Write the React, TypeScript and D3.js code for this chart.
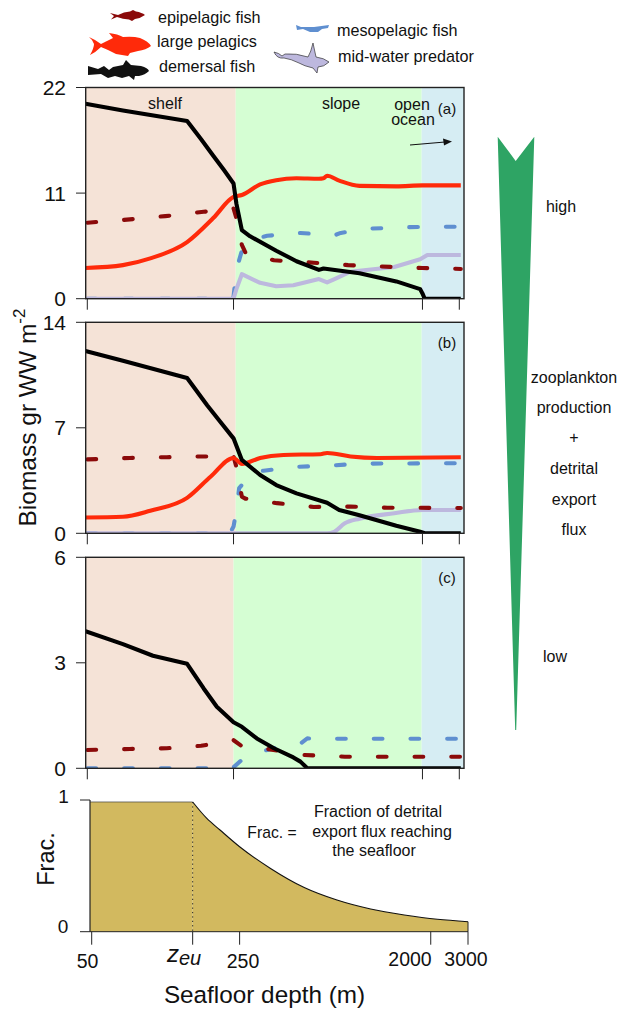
import React from "react";
import * as d3 from "d3";

const C = { epi: "#8b0a0a", large: "#ff2a0a", dem: "#000000", meso: "#5f8fd0", mid: "#bdb8de" };

const depthTicks = [50, 250, 2000, 3000];

const a_dem_d = [49, 74, 150, 175, 200, 225, 250, 258, 274, 300, 400, 500, 640, 673, 1000, 1500, 1950, 2000, 2050, 3050];
const a_dem_v = [20.3, 19.6, 18.5, 16.6, 14.9, 13.4, 12, 9.9, 7.15, 6.5, 5.0, 3.9, 3.0, 3.15, 2.65, 1.8, 1.0, 0.55, 0, 0];
const a_large_d = [49, 74, 100, 150, 200, 250, 274, 335, 400, 500, 640, 673, 700, 800, 1000, 1500, 2000, 3050];
const a_large_v = [3.2, 3.5, 4.2, 5.9, 8.4, 10.6, 10.8, 11.9, 12.35, 12.55, 12.5, 12.55, 12.8, 12.3, 11.75, 11.7, 11.8, 11.8];
const a_epi_d = [49, 74, 118, 180, 250, 258, 274, 285, 390, 605, 882, 1466, 2000, 3050];
const a_epi_v = [7.9, 8.2, 8.6, 9.05, 9.4, 8.4, 5.6, 4.8, 4.0, 3.75, 3.5, 3.3, 3.2, 3.1];
const a_meso_d = [49, 245, 250, 258, 274, 323, 362, 522, 757, 814, 1120, 1698, 2540, 3050];
const a_meso_v = [0, 0, 0.2, 3, 5, 6.3, 6.55, 6.85, 6.6, 6.85, 7.3, 7.45, 7.5, 7.5];
const a_mid_d = [49, 250, 258, 274, 335, 400, 483, 640, 700, 760, 900, 1466, 1950, 2110, 3050];
const a_mid_v = [0, 0, 1.0, 2.55, 1.65, 1.3, 1.4, 2.05, 1.7, 2.05, 2.8, 3.3, 4.1, 4.55, 4.55];

const b_dem_d = [49, 74, 150, 187, 216, 250, 274, 335, 400, 500, 700, 800, 1000, 1500, 1950, 2050, 3050];
const b_dem_v = [12.1, 11.45, 10.3, 8.5, 7.4, 6.3, 4.87, 3.87, 3.2, 2.65, 2.03, 1.55, 1.2, 0.5, 0.1, 0, 0];
const b_large_d = [49, 74, 100, 150, 194, 250, 274, 335, 433, 651, 700, 906, 1212, 3050];
const b_large_v = [1.05, 1.1, 1.5, 2.35, 3.75, 5, 4.6, 5.0, 5.2, 5.25, 5.33, 5.1, 5.0, 5.05];
const b_epi_d = [49, 80, 120, 175, 250, 258, 274, 285, 404, 605, 906, 1358, 3050];
const b_epi_v = [4.9, 5.0, 5.05, 5.1, 5.1, 4.4, 2.43, 2.3, 2.0, 1.75, 1.77, 1.7, 1.68];
const b_meso_d = [49, 240, 250, 258, 266, 312, 348, 483, 742, 1000, 3050];
const b_meso_v = [0, 0, 0.45, 1.5, 3.0, 4.1, 4.15, 4.4, 4.5, 4.62, 4.65];
const b_mid_d = [49, 700, 757, 851, 1000, 1466, 2000, 3050];
const b_mid_v = [0, 0, 0.1, 0.66, 0.97, 1.33, 1.55, 1.55];

const c_dem_d = [49, 74, 103, 150, 180, 208, 250, 274, 323, 390, 483, 522, 563, 3050];
const c_dem_v = [3.9, 3.53, 3.2, 2.97, 2.27, 1.75, 1.31, 1.18, 0.85, 0.57, 0.31, 0.19, 0, 0];
const c_epi_d = [49, 80, 120, 175, 250, 274, 362, 542, 851, 3050];
const c_epi_v = [0.52, 0.55, 0.57, 0.64, 0.8, 0.63, 0.55, 0.38, 0.33, 0.33];
const c_meso_d = [49, 240, 250, 274, 335, 404, 522, 563, 783, 3050];
const c_meso_v = [0, 0, 0.03, 0.24, 0.47, 0.59, 0.7, 0.85, 0.84, 0.84];

const frac_flat_d = [50, 150];
const frac_flat_v = [0.985, 0.985];
const frac_d = [150, 175, 202, 250, 350, 505, 721, 1040, 1500, 2150, 3000];
const frac_v = [0.985, 0.86, 0.772, 0.645, 0.48, 0.335, 0.24, 0.172, 0.127, 0.094, 0.076];

const FONT = "Liberation Sans, Arial, sans-serif";

type S = { d: number[]; v: number[]; c: string; dash?: boolean; smooth?: boolean };

function Panel({ top, bottom, max, shelfEnd, label, series, id }: { top: number; bottom: number; max: number; shelfEnd: number; label: string; series: S[]; id: string }) {
  const x = d3.scaleLog().domain([50, 3000]).range([87.3, 459.3]);
  const y = d3.scaleLinear().domain([0, max]).range([bottom, top]);
  const L = 85.7, R = 464;
  const oceanX = 421.7;
  return (
    <g>
      <rect x={L} y={top} width={shelfEnd - L} height={bottom - top} fill="#f5e3d7" />
      <rect x={shelfEnd} y={top} width={oceanX - shelfEnd} height={bottom - top} fill="#d5fed3" />
      <rect x={oceanX} y={top} width={R - oceanX} height={bottom - top} fill="#d6edf3" />
      <clipPath id={id}><rect x={L} y={top} width={R - L} height={bottom - top} /></clipPath>
      <g clipPath={`url(#${id})`}>
        {series.map((s, i) => {
          const line = d3.line<number>().x((_, k) => x(s.d[k])).y((val) => y(val)).curve(s.smooth ? d3.curveMonotoneX : d3.curveLinear);
          return (
            <path key={i} d={line(s.v) || ""} fill="none" stroke={s.c} strokeWidth={4.1}
              strokeLinejoin="round" strokeLinecap={s.dash ? "round" : "butt"}
              strokeDasharray={s.dash ? "8.7 28" : undefined} strokeDashoffset={s.dash ? -2 : 0} />
          );
        })}
      </g>
      <rect x={L} y={top} width={R - L} height={bottom - top} fill="none" stroke="#222" strokeWidth={1.4} />
      {[0, max / 2, max].map((t) => (
        <g key={t}>
          <line x1={76} x2={L} y1={y(t)} y2={y(t)} stroke="#222" strokeWidth={1} />
          <text x={66} y={y(t) + 7.5} textAnchor="end" fontSize={21} fontFamily={FONT} fill="#111">{t}</text>
        </g>
      ))}
      {depthTicks.map((t) => (
        <line key={t} x1={x(t)} x2={x(t)} y1={bottom} y2={bottom + 11} stroke="#222" strokeWidth={1} />
      ))}
      <text x={447} y={top + 26} textAnchor="middle" fontSize={15} fontFamily={FONT} fill="#111">{label}</text>
    </g>
  );
}

const Legend = ({ x, y, t }: { x: number; y: number; t: string }) => (
  <text x={x} y={y} fontSize={16.2} fontFamily={FONT} fill="#111">{t}</text>
);

const sideLabels: [string, number, number][] = [
  ["high", 561, 212], ["zooplankton", 574, 383], ["production", 574, 413], ["+", 574, 443],
  ["detrital", 574, 474], ["export", 574, 505], ["flux", 574, 535], ["low", 555, 662],
];

export default function App() {
  const xb = d3.scaleLog().domain([50, 3000]).range([91.7, 468]);
  const yb = d3.scaleLinear().domain([0, 1]).range([931.7, 800]);
  const area = d3.area<number>().x((_, k) => xb(frac_d[k])).y0(yb(0)).y1((v) => yb(v)).curve(d3.curveMonotoneX);
  const line = d3.line<number>().x((_, k) => xb(frac_d[k])).y((v) => yb(v)).curve(d3.curveMonotoneX);
  const zeu = xb(150);
  const flatX0 = xb(frac_flat_d[0]) - 1.7;
  const flatX1 = xb(frac_flat_d[1]);
  const flatY = yb(frac_flat_v[0]);
  return (
    <svg width={619} height={1010} style={{ position: "absolute", left: 0, top: 0, background: "#fff" }}>
      {/* legend fish */}
      <path d="M110 13 L118 15 Q124 11.5 130 11.5 L133 10 L136 11.5 Q142 12.5 145 15 Q141 18 135 19 L132 21 L129 19.5 Q123 19 117 17 L111 19.5 L114 16 Z" fill={C.epi} />
      <path d="M89 37 Q96 40 101 44 Q107 41 113 38 L109 33 Q118 34 123 37 Q133 36 140 38 Q148 41 151 46 Q146 50 138 51 L130 53 L128 56 L116 54 L108 50 L101 47 Q96 52 90 55 Q94 48 94 44 Q93 40 89 37 Z" fill={C.large} />
      <path d="M88 66 L98 69 L104 66 L109 70 L113 67 L118 66 L123 65 L126 60 L131 65 L141 66 Q148 68 149 71 Q145 75 139 76 L135 76 L134 80 L129 76 L122 78 L115 76 L108 78 L101 74 L88 75 Z" fill="#111" />
      <path d="M296 25 L301 27 L314 27 L329 25 L328 28 L322 29 L318 32 L310 32 L303 29 L297 30 Z" fill={C.meso} />
      <path d="M274 52 Q279 53 282 56 L285 54 Q296 53 308 57 Q311 52 313 43 L316 57 Q324 58 329 62 Q324 67 318 67 L317 73 L313 68 Q304 66 299 63 Q291 59 284 58 Q277 59 274 52 Z" fill={C.mid} stroke="#333" strokeWidth={0.7} />
      <Legend x={158} y={23} t="epipelagic fish" />
      <Legend x={157} y={47} t="large pelagics" />
      <Legend x={159} y={72} t="demersal fish" />
      <Legend x={337} y={36} t="mesopelagic fish" />
      <Legend x={338} y={62} t="mid-water predator" />

      <Panel id="pa" top={87.5} bottom={298.7} max={22} shelfEnd={235.7} label="(a)" series={[
        { d: a_meso_d, v: a_meso_v, c: C.meso, dash: true },
        { d: a_mid_d, v: a_mid_v, c: C.mid },
        { d: a_epi_d, v: a_epi_v, c: C.epi, dash: true },
        { d: a_large_d, v: a_large_v, c: C.large, smooth: true },
        { d: a_dem_d, v: a_dem_v, c: C.dem },
      ]} />
      <Panel id="pb" top={322.3} bottom={533.3} max={14} shelfEnd={235.7} label="(b)" series={[
        { d: b_meso_d, v: b_meso_v, c: C.meso, dash: true },
        { d: b_mid_d, v: b_mid_v, c: C.mid, smooth: true },
        { d: b_epi_d, v: b_epi_v, c: C.epi, dash: true },
        { d: b_large_d, v: b_large_v, c: C.large, smooth: true },
        { d: b_dem_d, v: b_dem_v, c: C.dem },
      ]} />
      <Panel id="pc" top={557.3} bottom={768.3} max={6} shelfEnd={233.5} label="(c)" series={[
        { d: c_meso_d, v: c_meso_v, c: C.meso, dash: true },
        { d: c_epi_d, v: c_epi_v, c: C.epi, dash: true },
        { d: c_dem_d, v: c_dem_v, c: C.dem },
      ]} />

      <text x={165} y={109} textAnchor="middle" fontSize={16} fontFamily={FONT} fill="#111">shelf</text>
      <text x={341} y={109} textAnchor="middle" fontSize={16} fontFamily={FONT} fill="#111">slope</text>
      <text x={412} y={110} textAnchor="middle" fontSize={16} fontFamily={FONT} fill="#111">open</text>
      <text x={413} y={125} textAnchor="middle" fontSize={16} fontFamily={FONT} fill="#111">ocean</text>
      <line x1={410} y1={145} x2={445} y2={142} stroke="#111" strokeWidth={1.2} />
      <path d="M452 141.5 L443 138.5 L444 145.5 Z" fill="#111" />

      <text transform="translate(36,417.5) rotate(-90)" textAnchor="middle" fontSize={24.5} fontFamily={FONT} fill="#111">
        Biomass gr WW m<tspan fontSize={17} dy={-11}>-2</tspan>
      </text>

      {/* gradient wedge */}
      <path d="M497.7 136.7 L515.7 161 L534.3 136.7 L516.2 730 L515.2 730 Z" fill="#2ea464" />
      {sideLabels.map(([t, x, y]) => (
        <text key={t} x={x} y={y} textAnchor="middle" fontSize={16} fontFamily={FONT} fill="#111">{t}</text>
      ))}

      {/* bottom panel */}
      <rect x={flatX0} y={flatY} width={flatX1 - flatX0} height={yb(0) - flatY} fill="#d2b95f" />
      <path d={area(frac_v) || ""} fill="#d2b95f" />
      <path d={line(frac_v) || ""} fill="none" stroke="#111" strokeWidth={1.1} />
      <line x1={flatX0} x2={flatX1} y1={flatY} y2={flatY} stroke="#444" strokeWidth={0.7} />
      <line x1={90} x2={90} y1={yb(1)} y2={yb(0)} stroke="#222" strokeWidth={1.2} />
      <line x1={468} x2={468} y1={yb(frac_v[frac_v.length - 1])} y2={yb(0)} stroke="#222" strokeWidth={1} />
      <line x1={80} x2={468} y1={yb(0)} y2={yb(0)} stroke="#222" strokeWidth={1} />
      <line x1={80} x2={90} y1={yb(1)} y2={yb(1)} stroke="#222" strokeWidth={1} />
      <line x1={zeu} x2={zeu} y1={flatY} y2={yb(0)} stroke="#222" strokeWidth={1} strokeDasharray="1.2 3.2" />
      {[50, 150, 250, 2000, 3000].map((t) => (
        <line key={t} x1={xb(t)} x2={xb(t)} y1={yb(0)} y2={yb(0) + 13} stroke="#222" strokeWidth={1} />
      ))}
      <text x={63.5} y={803} textAnchor="middle" fontSize={19} fontFamily={FONT} fill="#111">1</text>
      <text x={63} y={933} textAnchor="middle" fontSize={19} fontFamily={FONT} fill="#111">0</text>
      <text transform="translate(54,859) rotate(-90)" textAnchor="middle" fontSize={23.5} fontFamily={FONT} fill="#111">Frac.</text>
      <text x={87.5} y={968} textAnchor="middle" fontSize={19.5} fontFamily={FONT} fill="#111">50</text>
      <text x={184} y={962} textAnchor="middle" fontSize={24} fontFamily={FONT} fontStyle="italic" fill="#111">z<tspan fontSize={20} dy={3}>eu</tspan></text>
      <text x={243} y={968} textAnchor="middle" fontSize={19.5} fontFamily={FONT} fill="#111">250</text>
      <text x={410} y={966} textAnchor="middle" fontSize={19.5} fontFamily={FONT} fill="#111">2000</text>
      <text x={466} y={965.5} textAnchor="middle" fontSize={19.5} fontFamily={FONT} fill="#111">3000</text>
      <text x={264.5} y={1003} textAnchor="middle" fontSize={24.3} fontFamily={FONT} fill="#111">Seafloor depth (m)</text>
      <text x={272} y={838} textAnchor="middle" fontSize={15.7} fontFamily={FONT} fill="#111">Frac. =</text>
      <text x={378} y={817} textAnchor="middle" fontSize={16} fontFamily={FONT} fill="#111">Fraction of detrital</text>
      <text x={382} y={837} textAnchor="middle" fontSize={16} fontFamily={FONT} fill="#111">export flux reaching</text>
      <text x={374} y={856} textAnchor="middle" fontSize={16} fontFamily={FONT} fill="#111">the seafloor</text>
    </svg>
  );
}
